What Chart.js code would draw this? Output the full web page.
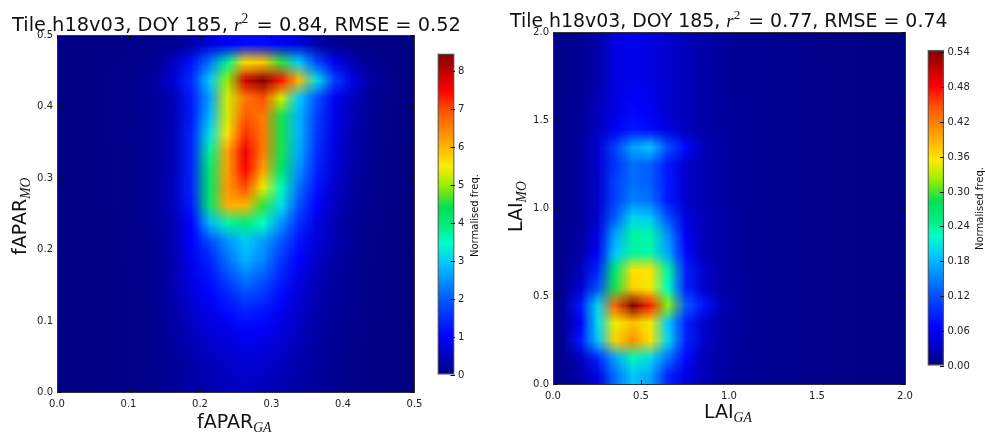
<!DOCTYPE html>
<html>
<head>
<meta charset="utf-8">
<script src="https://cdn.jsdelivr.net/npm/chart.js@4"></script>
<style>
  html, body { margin: 0; padding: 0; background: #fff; overflow: hidden; }
  #page { position: relative; width: 985px; height: 434px; filter: blur(0.4px); }
  canvas { position: absolute; top: 0; }
</style>
</head>
<body>
<div id="page">
  <canvas id="faparMap" width="490" height="434" style="left:0"></canvas>
  <canvas id="faparBar" width="60" height="434" style="left:430px"></canvas>
  <canvas id="laiMap" width="490" height="434" style="left:495px"></canvas>
  <canvas id="laiBar" width="65" height="434" style="left:920px"></canvas>
</div>
<script>
// bin centres, 20 per axis
const faparBins = [0.0125, 0.0375, 0.0625, 0.0875, 0.1125, 0.1375, 0.1625, 0.1875, 0.2125, 0.2375, 0.2625, 0.2875, 0.3125, 0.3375, 0.3625, 0.3875, 0.4125, 0.4375, 0.4625, 0.4875];
const laiBins = [0.05, 0.15, 0.25, 0.35, 0.45, 0.55, 0.65, 0.75, 0.85, 0.95, 1.05, 1.15, 1.25, 1.35, 1.45, 1.55, 1.65, 1.75, 1.85, 1.95];

// rows run from the top of the plot (highest y bin) downwards
const faparFreq = [
  [0.02,0.02,0.03,0.04,0.06,0.08,0.12,0.30,0.70,1.00,1.10,1.10,1.00,0.70,0.30,0.12,0.06,0.04,0.02,0.02],
  [0.02,0.03,0.04,0.06,0.10,0.18,0.50,1.20,2.20,3.80,5.60,5.80,4.60,3.00,1.80,0.90,0.40,0.15,0.06,0.03],
  [0.02,0.03,0.05,0.08,0.12,0.25,0.70,1.50,3.00,5.00,7.90,8.48,7.40,6.00,3.20,1.70,0.80,0.30,0.08,0.03],
  [0.02,0.03,0.05,0.08,0.12,0.22,0.45,1.30,2.60,5.30,6.60,7.00,5.30,3.00,1.90,0.90,0.50,0.18,0.07,0.03],
  [0.02,0.03,0.05,0.07,0.11,0.20,0.40,1.30,2.80,5.30,6.90,6.60,4.50,2.80,1.70,0.85,0.42,0.16,0.06,0.03],
  [0.02,0.03,0.05,0.07,0.10,0.20,0.42,1.40,3.20,5.60,7.20,6.60,4.50,2.80,1.60,0.80,0.38,0.15,0.06,0.03],
  [0.02,0.03,0.04,0.06,0.10,0.20,0.45,1.40,3.80,6.20,7.60,6.60,4.50,2.70,1.50,0.75,0.35,0.14,0.05,0.02],
  [0.02,0.03,0.04,0.06,0.10,0.20,0.45,1.40,4.10,6.20,7.50,6.20,4.20,2.50,1.40,0.70,0.30,0.12,0.05,0.02],
  [0.02,0.02,0.04,0.06,0.10,0.20,0.50,1.40,4.20,6.30,7.00,5.40,3.60,2.20,1.20,0.60,0.25,0.10,0.05,0.02],
  [0.02,0.02,0.04,0.06,0.10,0.20,0.50,1.30,4.10,6.10,6.00,4.60,3.20,1.90,1.00,0.50,0.22,0.09,0.04,0.02],
  [0.02,0.02,0.03,0.05,0.09,0.18,0.42,1.00,2.80,3.70,4.00,3.50,2.50,1.50,0.80,0.40,0.18,0.08,0.04,0.02],
  [0.02,0.02,0.03,0.05,0.08,0.15,0.40,1.00,1.80,2.50,3.00,2.60,2.00,1.20,0.70,0.40,0.16,0.07,0.03,0.02],
  [0.02,0.02,0.03,0.05,0.07,0.14,0.38,0.90,1.40,2.20,2.80,2.40,1.60,1.00,0.55,0.30,0.14,0.06,0.03,0.02],
  [0.02,0.02,0.03,0.04,0.07,0.13,0.40,0.80,1.20,1.80,2.30,2.00,1.40,0.80,0.45,0.25,0.12,0.05,0.03,0.02],
  [0.02,0.02,0.03,0.04,0.06,0.12,0.35,0.70,1.00,1.40,1.80,1.60,1.10,0.70,0.40,0.22,0.11,0.05,0.03,0.02],
  [0.01,0.02,0.03,0.04,0.06,0.12,0.30,0.60,0.85,1.10,1.35,1.20,0.90,0.60,0.35,0.20,0.10,0.05,0.02,0.01],
  [0.01,0.02,0.03,0.04,0.06,0.11,0.26,0.50,0.70,0.85,1.00,0.95,0.75,0.50,0.30,0.17,0.09,0.04,0.02,0.01],
  [0.01,0.02,0.03,0.04,0.06,0.11,0.22,0.40,0.55,0.65,0.80,0.75,0.60,0.40,0.25,0.15,0.08,0.04,0.02,0.01],
  [0.01,0.02,0.03,0.04,0.06,0.10,0.18,0.30,0.45,0.55,0.65,0.60,0.50,0.35,0.22,0.13,0.07,0.04,0.02,0.01],
  [0.01,0.02,0.03,0.04,0.06,0.10,0.17,0.30,0.40,0.50,0.55,0.50,0.40,0.30,0.20,0.12,0.07,0.04,0.02,0.01]
];
const laiFreq = [
  [0.005,0.01,0.02,0.05,0.055,0.05,0.04,0.03,0.02,0.015,0.01,0.01,0.008,0.006,0.005,0.004,0.003,0.003,0.002,0.002],
  [0.005,0.01,0.02,0.05,0.055,0.05,0.04,0.03,0.02,0.015,0.01,0.01,0.008,0.006,0.005,0.004,0.003,0.003,0.002,0.002],
  [0.005,0.01,0.02,0.05,0.055,0.05,0.04,0.03,0.02,0.015,0.01,0.01,0.008,0.006,0.005,0.004,0.003,0.003,0.002,0.002],
  [0.005,0.01,0.025,0.05,0.06,0.055,0.04,0.03,0.02,0.015,0.01,0.01,0.008,0.006,0.005,0.004,0.003,0.003,0.002,0.002],
  [0.005,0.012,0.03,0.05,0.07,0.06,0.04,0.03,0.02,0.015,0.012,0.01,0.008,0.006,0.005,0.004,0.003,0.003,0.002,0.002],
  [0.005,0.012,0.03,0.06,0.08,0.07,0.05,0.03,0.02,0.015,0.012,0.01,0.008,0.006,0.005,0.004,0.003,0.003,0.002,0.002],
  [0.005,0.015,0.04,0.11,0.17,0.19,0.12,0.07,0.03,0.02,0.012,0.01,0.008,0.006,0.005,0.004,0.003,0.003,0.002,0.002],
  [0.005,0.015,0.04,0.10,0.14,0.13,0.08,0.04,0.025,0.018,0.012,0.01,0.008,0.006,0.005,0.004,0.003,0.003,0.002,0.002],
  [0.005,0.015,0.035,0.11,0.14,0.13,0.08,0.04,0.025,0.018,0.012,0.01,0.008,0.006,0.005,0.004,0.003,0.003,0.002,0.002],
  [0.005,0.015,0.04,0.11,0.15,0.14,0.08,0.04,0.025,0.018,0.012,0.01,0.008,0.006,0.005,0.004,0.003,0.003,0.002,0.002],
  [0.005,0.015,0.04,0.13,0.20,0.19,0.12,0.05,0.03,0.02,0.014,0.01,0.008,0.006,0.005,0.004,0.003,0.003,0.002,0.002],
  [0.006,0.016,0.05,0.17,0.24,0.235,0.16,0.06,0.03,0.02,0.014,0.01,0.008,0.006,0.005,0.004,0.003,0.003,0.002,0.002],
  [0.006,0.02,0.06,0.19,0.24,0.235,0.17,0.07,0.03,0.02,0.014,0.01,0.008,0.006,0.005,0.004,0.003,0.003,0.002,0.002],
  [0.006,0.03,0.09,0.26,0.36,0.36,0.24,0.09,0.04,0.02,0.015,0.01,0.008,0.006,0.005,0.004,0.003,0.003,0.002,0.002],
  [0.007,0.04,0.12,0.29,0.37,0.35,0.22,0.09,0.04,0.02,0.015,0.01,0.008,0.006,0.005,0.004,0.003,0.003,0.002,0.002],
  [0.008,0.08,0.20,0.44,0.545,0.47,0.32,0.13,0.08,0.03,0.015,0.01,0.008,0.006,0.005,0.004,0.003,0.003,0.002,0.002],
  [0.007,0.06,0.20,0.35,0.38,0.35,0.19,0.09,0.04,0.02,0.015,0.01,0.008,0.006,0.005,0.004,0.003,0.003,0.002,0.002],
  [0.007,0.08,0.19,0.37,0.41,0.36,0.20,0.09,0.04,0.02,0.015,0.01,0.008,0.006,0.005,0.004,0.003,0.003,0.002,0.002],
  [0.006,0.03,0.09,0.17,0.23,0.20,0.14,0.07,0.03,0.02,0.012,0.01,0.008,0.006,0.005,0.004,0.003,0.003,0.002,0.002],
  [0.006,0.02,0.05,0.14,0.19,0.17,0.09,0.05,0.03,0.018,0.012,0.01,0.008,0.006,0.005,0.004,0.003,0.003,0.002,0.002]
];

const faparMax = 8.48;
const laiMax = 0.545;

const faparTitle = ['Tile h18v03, DOY 185, ', ' = 0.84, RMSE = 0.52'];
const laiTitle = ['Tile h18v03, DOY 185, ', ' = 0.77, RMSE = 0.74'];
const barLabel = 'Normalised freq.';

const TICK_FONT = { family: 'DejaVu Sans', size: 10 };
const SANS = '"DejaVu Sans"';
const SERIF = '"Liberation Serif"';

// colour ramp: position, r, g, b
const RAMP = [
  [0, 0, 0, 130], [0.12, 0, 0, 255], [0.235, 0, 90, 255], [0.35, 0, 200, 255],
  [0.41, 0, 255, 200], [0.47, 0, 235, 120], [0.52, 0, 225, 90], [0.565, 100, 230, 30],
  [0.59, 150, 240, 0], [0.65, 255, 235, 0], [0.71, 255, 180, 0], [0.82, 255, 85, 0],
  [0.885, 255, 0, 0], [1, 130, 0, 0]
];

function jet(t) {
  t = Math.max(0, Math.min(1, t));
  for (let i = 1; i < RAMP.length; i++) {
    if (t <= RAMP[i][0]) {
      const a = RAMP[i - 1], b = RAMP[i];
      const f = (t - a[0]) / (b[0] - a[0]);
      const mix = (k) => Math.round(a[k] + (b[k] - a[k]) * f);
      return `rgb(${mix(1)},${mix(2)},${mix(3)})`;
    }
  }
  return 'rgb(130,0,0)';
}

// text made of several fonts, for the subscripts and the r^2
function drawRuns(ctx, runs, x, y, angle) {
  ctx.save();
  ctx.translate(x, y);
  ctx.rotate(angle || 0);
  ctx.fillStyle = '#111';
  ctx.textAlign = 'left';
  ctx.textBaseline = 'alphabetic';
  let cx = 0;
  runs.forEach((r) => {
    ctx.font = r.font;
    ctx.fillText(r.text, cx, r.dy || 0);
    cx += ctx.measureText(r.text).width + (r.gap || 0);
  });
  ctx.restore();
}

function titleRuns(parts, size) {
  return [
    { text: parts[0], font: `${size}px ${SANS}` },
    { text: 'r', font: `italic ${size}px ${SERIF}` },
    { text: '2', font: `${size * 0.7}px ${SERIF}`, dy: -size * 0.42, gap: 2 },
    { text: parts[1], font: `${size}px ${SANS}` }
  ];
}
function labelRuns(main, sub, size) {
  return [
    { text: main, font: `${size}px ${SANS}` },
    { text: sub, font: `italic ${size * 0.72}px ${SERIF}`, dy: size * 0.22 }
  ];
}

// resample the drawn cells to one pixel each and stretch them back smoothly, like imshow
const smoothCells = {
  id: 'smoothCells',
  afterDatasetsDraw(chart) {
    const { ctx, canvas, chartArea: a } = chart;
    const small = document.createElement('canvas');
    small.width = 20;
    small.height = 20;
    const sctx = small.getContext('2d');
    sctx.imageSmoothingEnabled = false;
    sctx.drawImage(canvas, a.left, a.top, a.width, a.height, 0, 0, 20, 20);
    ctx.save();
    ctx.imageSmoothingEnabled = true;
    ctx.imageSmoothingQuality = 'low';
    ctx.drawImage(small, a.left, a.top, a.width, a.height);
    ctx.restore();
  }
};

// scale boxes are pinned so the plot area lands where the reference has it
const fixedWidth = (w) => (s) => { s.width = w; };
const fixedHeight = (h) => (s) => { s.height = h; };

function heatmap(id, bins, rows, maxValue, axisMax, step, box, texts) {
  const points = [];
  const colors = [];
  rows.forEach((row, j) => {
    row.forEach((v, i) => {
      points.push({ x: bins[i], y: bins[rows.length - 1 - j] });
      colors.push(jet(v / maxValue));
    });
  });
  const tickLabel = (v) => v.toFixed(1);
  const frame = { color: '#333', width: 1, z: 1 };
  const marks = { drawOnChartArea: false, tickLength: -4, tickColor: '#111', z: 1 };
  new Chart(document.getElementById(id), {
    type: 'scatter',
    data: {
      datasets: [{
        data: points,
        pointStyle: 'rect',
        pointBorderWidth: 0,
        pointBackgroundColor: colors,
        pointRadius: (c) => {
          const s = c.chart.scales.x;
          return Math.abs(s.getPixelForValue(bins[1]) - s.getPixelForValue(bins[0])) * 0.75;
        }
      }]
    },
    options: {
      responsive: false,
      animation: false,
      events: [],
      layout: { padding: 0 },
      plugins: { legend: { display: false }, tooltip: { enabled: false } },
      scales: {
        x: {
          type: 'linear', min: 0, max: axisMax, afterFit: fixedHeight(box.bottom), grid: marks, border: frame,
          ticks: { stepSize: step, font: TICK_FONT, color: '#222', padding: 10, maxRotation: 0, autoSkip: false, callback: tickLabel }
        },
        y: {
          type: 'linear', min: 0, max: axisMax, afterFit: fixedWidth(box.left), grid: marks, border: frame,
          ticks: { stepSize: step, font: TICK_FONT, color: '#222', padding: 8, autoSkip: false, callback: tickLabel }
        },
        x2: {
          type: 'linear', position: 'top', min: 0, max: axisMax, afterFit: fixedHeight(box.top), grid: marks, border: frame,
          ticks: { stepSize: step, display: false }
        },
        y2: {
          type: 'linear', position: 'right', min: 0, max: axisMax, afterFit: fixedWidth(box.right), grid: marks, border: frame,
          ticks: { stepSize: step, display: false }
        }
      }
    },
    plugins: [smoothCells, {
      id: 'texts',
      afterDraw(chart) {
        texts.forEach((t) => drawRuns(chart.ctx, t.runs, t.x, t.y, t.angle));
      }
    }]
  });
}

function colorbar(id, maxValue, step, digits, box, labelX, labelY) {
  new Chart(document.getElementById(id), {
    type: 'bar',
    data: {
      labels: [barLabel],
      datasets: [{
        data: [[0, maxValue]],
        barPercentage: 1,
        categoryPercentage: 1,
        borderWidth: 1.5,
        borderColor: '#555',
        borderSkipped: false,
        backgroundColor: (c) => {
          const a = c.chart.chartArea;
          if (!a) return '#000';
          const g = c.chart.ctx.createLinearGradient(0, a.bottom, 0, a.top);
          RAMP.forEach((s) => g.addColorStop(s[0], `rgb(${s[1]},${s[2]},${s[3]})`));
          return g;
        }
      }]
    },
    options: {
      responsive: false,
      animation: false,
      events: [],
      layout: { padding: { left: box.left, top: box.top, bottom: box.bottom, right: 0 } },
      plugins: { legend: { display: false }, tooltip: { enabled: false } },
      scales: {
        x: { display: false },
        y: {
          position: 'right', min: 0, max: maxValue, afterFit: fixedWidth(box.right),
          border: { display: false },
          grid: { drawOnChartArea: false, tickLength: -4, tickColor: '#111', z: 1 },
          ticks: {
            stepSize: step, includeBounds: false, font: TICK_FONT, color: '#222', padding: 7.5, autoSkip: false,
            callback: (v) => v.toFixed(digits)
          }
        }
      }
    },
    plugins: [{
      id: 'barLabel',
      afterDraw(chart) {
        drawRuns(chart.ctx, [{ text: barLabel, font: `10px ${SANS}` }], labelX, labelY, -Math.PI / 2);
      }
    }]
  });
}

heatmap('faparMap', faparBins, faparFreq, faparMax, 0.5, 0.1,
  { left: 57, right: 75.5, top: 35, bottom: 41.5 },
  [
    { runs: titleRuns(faparTitle, 19.4), x: 12, y: 31 },
    { runs: labelRuns('fAPAR', 'GA', 19), x: 197, y: 428 },
    { runs: labelRuns('fAPAR', 'MO', 19), x: 25.5, y: 255, angle: -Math.PI / 2 }
  ]);
colorbar('faparBar', faparMax, 1, 0, { left: 7.5, right: 35.5, top: 53.5, bottom: 59 }, 48, 257);

heatmap('laiMap', laiBins, laiFreq, laiMax, 2, 0.5,
  { left: 58, right: 80, top: 32.5, bottom: 50 },
  [
    { runs: titleRuns(laiTitle, 18.9), x: 15, y: 27 },
    { runs: labelRuns('LAI', 'GA', 19), x: 209, y: 418 },
    { runs: labelRuns('LAI', 'MO', 19), x: 27, y: 232, angle: -Math.PI / 2 }
  ]);
colorbar('laiBar', laiMax, 0.06, 2, { left: 7.5, right: 41, top: 50, bottom: 68 }, 63, 250);
</script>
</body>
</html>
